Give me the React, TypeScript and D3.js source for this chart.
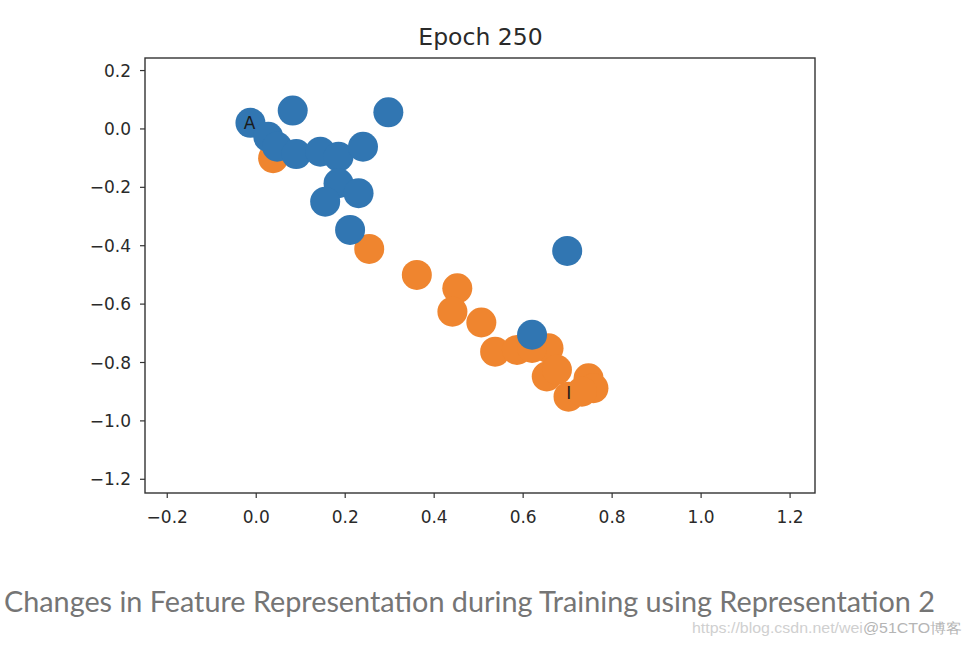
import React from "react";
import * as d3 from "d3";

const title = "Epoch 250";
const caption = "Changes in Feature Representation during Training using Representation 2";
const watermarkUrl = "https://blog.csdn.net/wei";
const watermarkTag = "@51CTO博客";

const xTicks = [-0.2, 0.0, 0.2, 0.4, 0.6, 0.8, 1.0, 1.2];
const yTicks = [0.2, 0.0, -0.2, -0.4, -0.6, -0.8, -1.0, -1.2];

// orange series (drawn first)
const orangeX = [0.038, 0.254, 0.361, 0.452, 0.441, 0.506, 0.537, 0.586, 0.657, 0.653, 0.676, 0.702, 0.747, 0.758, 0.732, 0.62];
const orangeY = [-0.1, -0.411, -0.5, -0.546, -0.626, -0.663, -0.763, -0.757, -0.751, -0.848, -0.825, -0.917, -0.854, -0.888, -0.9, -0.75];

// blue series (drawn on top)
const blueX = [-0.013, 0.082, 0.297, 0.027, 0.047, 0.09, 0.144, 0.185, 0.24, 0.185, 0.23, 0.155, 0.211, 0.699, 0.62];
const blueY = [0.021, 0.063, 0.057, -0.027, -0.061, -0.086, -0.078, -0.095, -0.061, -0.186, -0.22, -0.249, -0.346, -0.418, -0.705];

const labelText = ["A", "I"];
const labelX = [-0.028, 0.697];
const labelY = [0.0, -0.925];

const W = 972;
const H = 648;
const plotL = 145, plotR = 815, plotT = 58, plotB = 493;

export default function App() {
  const x = d3.scaleLinear().domain([-0.25, 1.256]).range([plotL, plotR]);
  const y = d3.scaleLinear().domain([0.243, -1.247]).range([plotT, plotB]);
  const fmt = d3.format(".1f");
  const blue = "#3176b2";
  const orange = "#ef852f";
  const r = 15;
  const tickFont = "DejaVu Sans, sans-serif";
  return (
    <svg width={W} height={H} style={{ position: "absolute", left: 0, top: 0, background: "#fff" }}>
      <rect x={0} y={0} width={W} height={H} fill="#fff" />
      <text x={(plotL + plotR) / 2 + 0.5} y={45} textAnchor="middle" fontFamily={tickFont} fontSize={23.5} fill="#2a2a2a">{title}</text>
      <g>
        {orangeX.map((v, i) => (
          <circle key={"o" + i} cx={x(v)} cy={y(orangeY[i])} r={r} fill={orange} />
        ))}
        {blueX.map((v, i) => (
          <circle key={"b" + i} cx={x(v)} cy={y(blueY[i])} r={r} fill={blue} />
        ))}
        {labelText.map((t, i) => (
          <text key={"l" + i} x={x(labelX[i])} y={y(labelY[i])} fontFamily={tickFont} fontSize={17} fill="#1a1a1a">{t}</text>
        ))}
      </g>
      <rect x={plotL} y={plotT} width={plotR - plotL} height={plotB - plotT} fill="none" stroke="#333" strokeWidth={1.4} />
      {xTicks.map((t) => (
        <g key={"x" + t}>
          <line x1={x(t)} x2={x(t)} y1={plotB} y2={plotB + 5} stroke="#333" strokeWidth={1.2} />
          <text x={x(t)} y={523} textAnchor="middle" fontFamily={tickFont} fontSize={17} fill="#2a2a2a">{fmt(t)}</text>
        </g>
      ))}
      {yTicks.map((t) => (
        <g key={"y" + t}>
          <line x1={plotL - 5} x2={plotL} y1={y(t)} y2={y(t)} stroke="#333" strokeWidth={1.2} />
          <text x={131} y={y(t)} dy="0.36em" textAnchor="end" fontFamily={tickFont} fontSize={17} fill="#2a2a2a">{fmt(t)}</text>
        </g>
      ))}
      <text x={4} y={612} fontFamily="Lato, sans-serif" fontSize={28} fill="#757575" textLength={931} lengthAdjust="spacingAndGlyphs">{caption}</text>
      <text x={692} y={633} fontFamily="Liberation Sans, sans-serif" fontSize={14} textLength={270} lengthAdjust="spacingAndGlyphs">
        <tspan fill="#d0d0d0">{watermarkUrl}</tspan>
        <tspan fill="#b5b5b5">{watermarkTag}</tspan>
      </text>
    </svg>
  );
}
